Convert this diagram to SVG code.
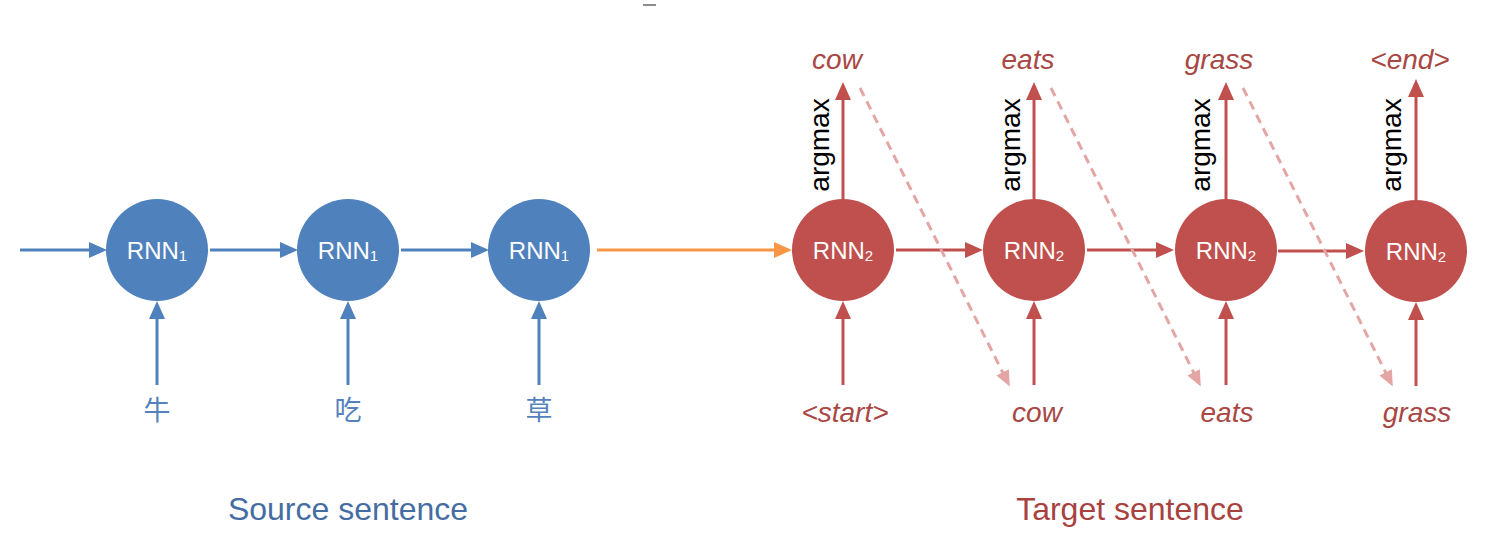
<svg xmlns="http://www.w3.org/2000/svg" width="1494" height="548" viewBox="0 0 1494 548">
  <style>
    .blue-node { fill: #4F81BD; }
    .red-node { fill: #C0504D; }
    .ntext { font-family: "Liberation Sans", Arial, sans-serif; font-size: 24px; fill: #FFFFFF; text-anchor: middle; }
    .sub { font-size: 15px; }
    .blue-line { stroke: #4F81BD; stroke-width: 3; fill: none; }
    .red-line { stroke: #C0504D; stroke-width: 3; fill: none; }
    .orange-line { stroke: #F79646; stroke-width: 3; fill: none; }
    .dash-line { stroke: #E4A6A5; stroke-width: 3; fill: none; stroke-dasharray: 9 6; }
    .zh { font-family: "Noto Sans CJK SC", "Noto Sans CJK JP", sans-serif; font-size: 27px; fill: #5582BC; text-anchor: middle; }
    .word { font-family: "Liberation Sans", Arial, sans-serif; font-size: 28px; font-style: italic; fill: #A94744; text-anchor: middle; }
    .argmax { font-family: "Liberation Sans", Arial, sans-serif; font-size: 28px; fill: #000000; text-anchor: middle; }
    .title-blue { font-family: "Liberation Sans", Arial, sans-serif; font-size: 32px; fill: #466DA3; text-anchor: middle; }
    .title-red { font-family: "Liberation Sans", Arial, sans-serif; font-size: 32px; fill: #A8423F; text-anchor: middle; }
  </style>
  <defs>
    <marker id="ah-blue" viewBox="0 0 18 16" refX="14" refY="8" markerWidth="18" markerHeight="16" markerUnits="userSpaceOnUse" orient="auto">
      <path d="M0,0 L18,8 L0,16 z" fill="#4F81BD"/>
    </marker>
    <marker id="ah-red" viewBox="0 0 18 16" refX="14" refY="8" markerWidth="18" markerHeight="16" markerUnits="userSpaceOnUse" orient="auto">
      <path d="M0,0 L18,8 L0,16 z" fill="#C0504D"/>
    </marker>
    <marker id="ah-orange" viewBox="0 0 18 16" refX="14" refY="8" markerWidth="18" markerHeight="16" markerUnits="userSpaceOnUse" orient="auto">
      <path d="M0,0 L18,8 L0,16 z" fill="#F79646"/>
    </marker>
    <marker id="ah-pink" viewBox="0 0 16 14" refX="12" refY="7" markerWidth="16" markerHeight="14" markerUnits="userSpaceOnUse" orient="auto">
      <path d="M0,0 L16,7 L0,14 z" fill="#E4A6A5"/>
    </marker>
  </defs>

  <rect width="1494" height="548" fill="#FFFFFF"/>
  <line x1="643" y1="5" x2="656" y2="5" stroke="#666666" stroke-width="1.5"/>

  <g id="connectors">
    <!-- encoder horizontal -->
    <line class="blue-line" x1="20" y1="250" x2="103" y2="250" marker-end="url(#ah-blue)"/>
    <line class="blue-line" x1="210" y1="250" x2="294" y2="250" marker-end="url(#ah-blue)"/>
    <line class="blue-line" x1="401" y1="250" x2="485" y2="250" marker-end="url(#ah-blue)"/>
    <!-- encoder inputs -->
    <line class="blue-line" x1="157" y1="385" x2="157" y2="305" marker-end="url(#ah-blue)"/>
    <line class="blue-line" x1="348" y1="385" x2="348" y2="305" marker-end="url(#ah-blue)"/>
    <line class="blue-line" x1="539" y1="385" x2="539" y2="305" marker-end="url(#ah-blue)"/>
    <!-- context -->
    <line class="orange-line" x1="597" y1="250" x2="788" y2="250" marker-end="url(#ah-orange)"/>
    <!-- decoder horizontal -->
    <line class="red-line" x1="896" y1="250" x2="979" y2="250" marker-end="url(#ah-red)"/>
    <line class="red-line" x1="1087" y1="250" x2="1170" y2="250" marker-end="url(#ah-red)"/>
    <line class="red-line" x1="1278" y1="251" x2="1360" y2="251" marker-end="url(#ah-red)"/>
    <!-- decoder inputs -->
    <line class="red-line" x1="843" y1="385" x2="843" y2="305" marker-end="url(#ah-red)"/>
    <line class="red-line" x1="1034" y1="385" x2="1034" y2="305" marker-end="url(#ah-red)"/>
    <line class="red-line" x1="1226" y1="385" x2="1226" y2="305" marker-end="url(#ah-red)"/>
    <line class="red-line" x1="1416" y1="386" x2="1416" y2="306" marker-end="url(#ah-red)"/>
    <!-- decoder outputs -->
    <line class="red-line" x1="843" y1="199" x2="843" y2="86" marker-end="url(#ah-red)"/>
    <line class="red-line" x1="1034" y1="199" x2="1034" y2="86" marker-end="url(#ah-red)"/>
    <line class="red-line" x1="1226" y1="199" x2="1226" y2="86" marker-end="url(#ah-red)"/>
    <line class="red-line" x1="1416" y1="200" x2="1416" y2="83" marker-end="url(#ah-red)"/>
    <!-- feedback dashed -->
    <line class="dash-line" x1="860" y1="88" x2="1008" y2="383" marker-end="url(#ah-pink)"/>
    <line class="dash-line" x1="1051" y1="88" x2="1199" y2="383" marker-end="url(#ah-pink)"/>
    <line class="dash-line" x1="1243" y1="88" x2="1391" y2="383" marker-end="url(#ah-pink)"/>
  </g>

  <g id="enc1">
    <circle class="blue-node" cx="157" cy="250" r="51"/>
    <text class="ntext" x="157" y="259">RNN<tspan class="sub" dy="2">1</tspan></text>
  </g>
  <g id="enc2">
    <circle class="blue-node" cx="348" cy="250" r="51"/>
    <text class="ntext" x="348" y="259">RNN<tspan class="sub" dy="2">1</tspan></text>
  </g>
  <g id="enc3">
    <circle class="blue-node" cx="539" cy="250" r="51"/>
    <text class="ntext" x="539" y="259">RNN<tspan class="sub" dy="2">1</tspan></text>
  </g>

  <g id="dec1">
    <circle class="red-node" cx="843" cy="250" r="51"/>
    <text class="ntext" x="843" y="259">RNN<tspan class="sub" dy="2">2</tspan></text>
  </g>
  <g id="dec2">
    <circle class="red-node" cx="1034" cy="250" r="51"/>
    <text class="ntext" x="1034" y="259">RNN<tspan class="sub" dy="2">2</tspan></text>
  </g>
  <g id="dec3">
    <circle class="red-node" cx="1226" cy="250" r="51"/>
    <text class="ntext" x="1226" y="259">RNN<tspan class="sub" dy="2">2</tspan></text>
  </g>
  <g id="dec4">
    <circle class="red-node" cx="1416" cy="251" r="51"/>
    <text class="ntext" x="1416" y="260">RNN<tspan class="sub" dy="2">2</tspan></text>
  </g>

  <g id="source-words">
    <text class="zh" x="157" y="420">牛</text>
    <text class="zh" x="348" y="420">吃</text>
    <text class="zh" x="539" y="420">草</text>
  </g>

  <g id="decoder-inputs">
    <text class="word" x="845" y="422">&lt;start&gt;</text>
    <text class="word" x="1037" y="422">cow</text>
    <text class="word" x="1227" y="422">eats</text>
    <text class="word" x="1417" y="422">grass</text>
  </g>

  <g id="decoder-outputs">
    <text class="word" x="837" y="69">cow</text>
    <text class="word" x="1028" y="69">eats</text>
    <text class="word" x="1219" y="69">grass</text>
    <text class="word" x="1410" y="69">&lt;end&gt;</text>
  </g>

  <g id="argmax-labels">
    <text class="argmax" transform="translate(829,145) rotate(-90)">argmax</text>
    <text class="argmax" transform="translate(1020,145) rotate(-90)">argmax</text>
    <text class="argmax" transform="translate(1210,145) rotate(-90)">argmax</text>
    <text class="argmax" transform="translate(1401,145) rotate(-90)">argmax</text>
  </g>

  <g id="titles">
    <text class="title-blue" x="348" y="520">Source sentence</text>
    <text class="title-red" x="1130" y="520">Target sentence</text>
  </g>
</svg>
